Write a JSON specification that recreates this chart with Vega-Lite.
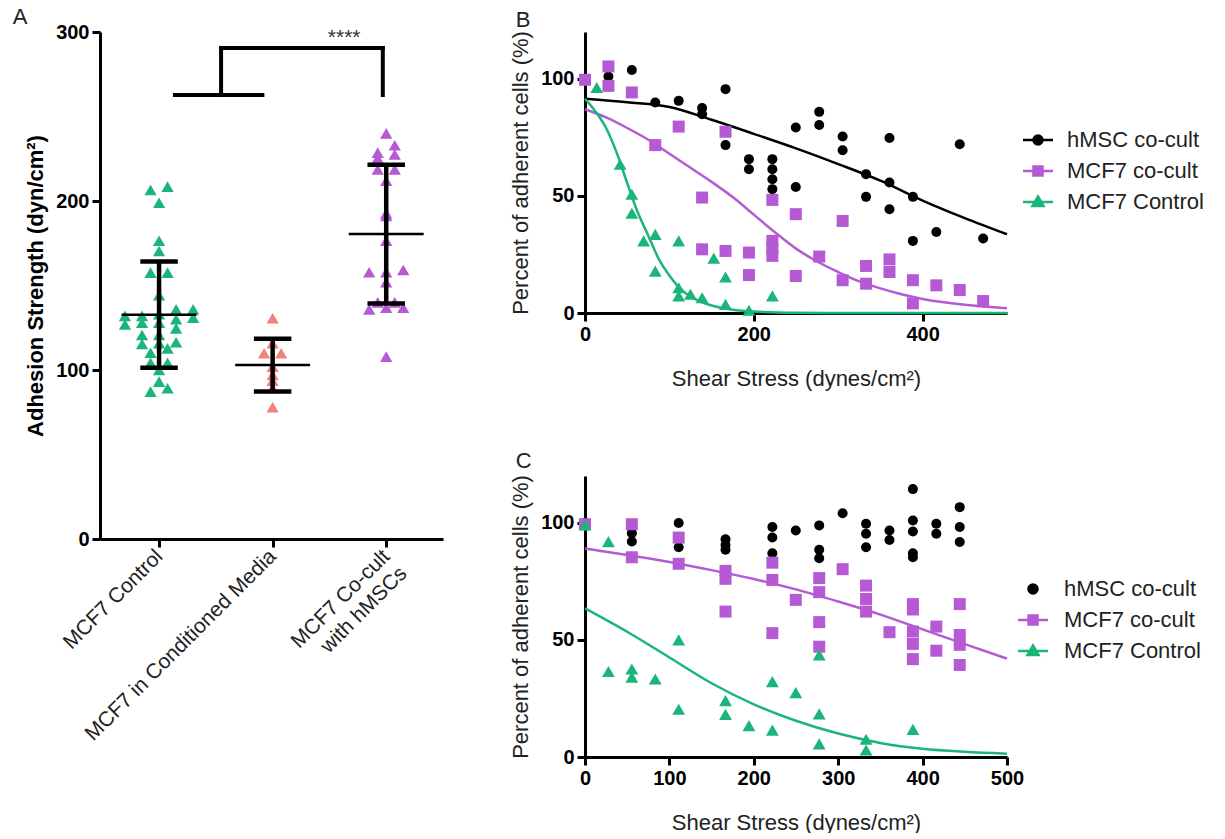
{
  "$schema": "https://vega.github.io/schema/vega-lite/v6.json",
  "background": "white",
  "padding": {"left": 12, "top": 6, "right": 0, "bottom": 0},
  "config": {
    "font": "Liberation Sans",
    "view": {"stroke": null},
    "axis": {
      "grid": false,
      "domainColor": "black",
      "domainWidth": 3,
      "tickColor": "black",
      "tickWidth": 3,
      "tickSize": 8,
      "labelFont": "Liberation Sans",
      "labelFontWeight": "bold",
      "labelFontSize": 20,
      "labelColor": "black",
      "labelFlush": false,
      "labelOverlap": false,
      "labelLimit": 400,
      "labelPadding": 3,
      "titleFont": "Liberation Sans",
      "titleFontWeight": "normal",
      "titleFontSize": 22,
      "titleColor": "#222"
    },
    "title": {"anchor": "start", "frame": "bounds", "font": "Liberation Sans", "fontSize": 22, "fontWeight": "normal", "color": "#222"},
    "legend": {"labelFont": "Liberation Sans", "labelFontSize": 22, "labelColor": "#222", "symbolOpacity": 1, "labelLimit": 300}
  },
  "datasets": {
    "adhesion": [
      {"condition": "MCF7 Control", "strength": 208.5},
      {"condition": "MCF7 Control", "strength": 206.5},
      {"condition": "MCF7 Control", "strength": 199},
      {"condition": "MCF7 Control", "strength": 176.5},
      {"condition": "MCF7 Control", "strength": 170.4},
      {"condition": "MCF7 Control", "strength": 157.6},
      {"condition": "MCF7 Control", "strength": 157.6},
      {"condition": "MCF7 Control", "strength": 144.2},
      {"condition": "MCF7 Control", "strength": 135.9},
      {"condition": "MCF7 Control", "strength": 135.9},
      {"condition": "MCF7 Control", "strength": 133},
      {"condition": "MCF7 Control", "strength": 132},
      {"condition": "MCF7 Control", "strength": 132},
      {"condition": "MCF7 Control", "strength": 131},
      {"condition": "MCF7 Control", "strength": 130},
      {"condition": "MCF7 Control", "strength": 128},
      {"condition": "MCF7 Control", "strength": 128},
      {"condition": "MCF7 Control", "strength": 127},
      {"condition": "MCF7 Control", "strength": 124.6},
      {"condition": "MCF7 Control", "strength": 120.7},
      {"condition": "MCF7 Control", "strength": 120.7},
      {"condition": "MCF7 Control", "strength": 116.4},
      {"condition": "MCF7 Control", "strength": 115.8},
      {"condition": "MCF7 Control", "strength": 115.4},
      {"condition": "MCF7 Control", "strength": 112.8},
      {"condition": "MCF7 Control", "strength": 110.2},
      {"condition": "MCF7 Control", "strength": 104.3},
      {"condition": "MCF7 Control", "strength": 104.3},
      {"condition": "MCF7 Control", "strength": 100},
      {"condition": "MCF7 Control", "strength": 93.1},
      {"condition": "MCF7 Control", "strength": 89.2},
      {"condition": "MCF7 Control", "strength": 87.2},
      {"condition": "MCF7 in Conditioned Media", "strength": 130.6},
      {"condition": "MCF7 in Conditioned Media", "strength": 115.8},
      {"condition": "MCF7 in Conditioned Media", "strength": 109.9},
      {"condition": "MCF7 in Conditioned Media", "strength": 109.9},
      {"condition": "MCF7 in Conditioned Media", "strength": 102},
      {"condition": "MCF7 in Conditioned Media", "strength": 97},
      {"condition": "MCF7 in Conditioned Media", "strength": 93.7},
      {"condition": "MCF7 in Conditioned Media", "strength": 89.2},
      {"condition": "MCF7 in Conditioned Media", "strength": 78},
      {"condition": "MCF7 Co-cult with hMSCs", "strength": 240},
      {"condition": "MCF7 Co-cult with hMSCs", "strength": 233},
      {"condition": "MCF7 Co-cult with hMSCs", "strength": 228.6},
      {"condition": "MCF7 Co-cult with hMSCs", "strength": 227.6},
      {"condition": "MCF7 Co-cult with hMSCs", "strength": 225.3},
      {"condition": "MCF7 Co-cult with hMSCs", "strength": 218.7},
      {"condition": "MCF7 Co-cult with hMSCs", "strength": 218.7},
      {"condition": "MCF7 Co-cult with hMSCs", "strength": 212},
      {"condition": "MCF7 Co-cult with hMSCs", "strength": 192.7},
      {"condition": "MCF7 Co-cult with hMSCs", "strength": 191.1},
      {"condition": "MCF7 Co-cult with hMSCs", "strength": 176.5},
      {"condition": "MCF7 Co-cult with hMSCs", "strength": 159.2},
      {"condition": "MCF7 Co-cult with hMSCs", "strength": 157.8},
      {"condition": "MCF7 Co-cult with hMSCs", "strength": 157.8},
      {"condition": "MCF7 Co-cult with hMSCs", "strength": 151.9},
      {"condition": "MCF7 Co-cult with hMSCs", "strength": 140},
      {"condition": "MCF7 Co-cult with hMSCs", "strength": 140},
      {"condition": "MCF7 Co-cult with hMSCs", "strength": 136.9},
      {"condition": "MCF7 Co-cult with hMSCs", "strength": 136.9},
      {"condition": "MCF7 Co-cult with hMSCs", "strength": 135.9},
      {"condition": "MCF7 Co-cult with hMSCs", "strength": 107.9}
    ],
    "fitB": [
      {"series": "hMSC co-cult", "shear": 0, "pct": 91.5},
      {"series": "hMSC co-cult", "shear": 50, "pct": 90},
      {"series": "hMSC co-cult", "shear": 100, "pct": 88},
      {"series": "hMSC co-cult", "shear": 150, "pct": 82.5},
      {"series": "hMSC co-cult", "shear": 200, "pct": 76.5},
      {"series": "hMSC co-cult", "shear": 250, "pct": 70.3},
      {"series": "hMSC co-cult", "shear": 300, "pct": 63.6},
      {"series": "hMSC co-cult", "shear": 350, "pct": 56.5},
      {"series": "hMSC co-cult", "shear": 400, "pct": 48},
      {"series": "hMSC co-cult", "shear": 450, "pct": 40.5},
      {"series": "hMSC co-cult", "shear": 500, "pct": 33.6},
      {"series": "MCF7 co-cult", "shear": 0, "pct": 87},
      {"series": "MCF7 co-cult", "shear": 25, "pct": 83.5},
      {"series": "MCF7 co-cult", "shear": 50, "pct": 79},
      {"series": "MCF7 co-cult", "shear": 75, "pct": 74},
      {"series": "MCF7 co-cult", "shear": 100, "pct": 68},
      {"series": "MCF7 co-cult", "shear": 125, "pct": 62},
      {"series": "MCF7 co-cult", "shear": 150, "pct": 56},
      {"series": "MCF7 co-cult", "shear": 175, "pct": 49.5},
      {"series": "MCF7 co-cult", "shear": 200, "pct": 42},
      {"series": "MCF7 co-cult", "shear": 225, "pct": 34.5},
      {"series": "MCF7 co-cult", "shear": 250, "pct": 27.5},
      {"series": "MCF7 co-cult", "shear": 275, "pct": 22},
      {"series": "MCF7 co-cult", "shear": 300, "pct": 17.5},
      {"series": "MCF7 co-cult", "shear": 325, "pct": 13.5},
      {"series": "MCF7 co-cult", "shear": 350, "pct": 10.5},
      {"series": "MCF7 co-cult", "shear": 375, "pct": 8},
      {"series": "MCF7 co-cult", "shear": 400, "pct": 6},
      {"series": "MCF7 co-cult", "shear": 450, "pct": 3.5},
      {"series": "MCF7 co-cult", "shear": 500, "pct": 2},
      {"series": "MCF7 Control", "shear": 0, "pct": 91.5},
      {"series": "MCF7 Control", "shear": 12.5, "pct": 86},
      {"series": "MCF7 Control", "shear": 25, "pct": 79},
      {"series": "MCF7 Control", "shear": 37.5, "pct": 68.5},
      {"series": "MCF7 Control", "shear": 50, "pct": 55.5},
      {"series": "MCF7 Control", "shear": 62.5, "pct": 43},
      {"series": "MCF7 Control", "shear": 75, "pct": 33},
      {"series": "MCF7 Control", "shear": 87.5, "pct": 23},
      {"series": "MCF7 Control", "shear": 100, "pct": 16},
      {"series": "MCF7 Control", "shear": 112.5, "pct": 10.5},
      {"series": "MCF7 Control", "shear": 125, "pct": 7},
      {"series": "MCF7 Control", "shear": 137.5, "pct": 4.8},
      {"series": "MCF7 Control", "shear": 150, "pct": 3.2},
      {"series": "MCF7 Control", "shear": 175, "pct": 1.4},
      {"series": "MCF7 Control", "shear": 200, "pct": 0.6},
      {"series": "MCF7 Control", "shear": 250, "pct": 0.1},
      {"series": "MCF7 Control", "shear": 300, "pct": 0},
      {"series": "MCF7 Control", "shear": 400, "pct": 0},
      {"series": "MCF7 Control", "shear": 500, "pct": 0}
    ],
    "pointsB": [
      {"series": "hMSC co-cult", "shear": 0, "pct": 100},
      {"series": "hMSC co-cult", "shear": 27.75, "pct": 101},
      {"series": "hMSC co-cult", "shear": 55.5, "pct": 103.8},
      {"series": "hMSC co-cult", "shear": 83.25, "pct": 89.9},
      {"series": "hMSC co-cult", "shear": 111, "pct": 90.6},
      {"series": "hMSC co-cult", "shear": 138.75, "pct": 87.5},
      {"series": "hMSC co-cult", "shear": 138.75, "pct": 84.9},
      {"series": "hMSC co-cult", "shear": 166.5, "pct": 95.6},
      {"series": "hMSC co-cult", "shear": 166.5, "pct": 71.7},
      {"series": "hMSC co-cult", "shear": 194.25, "pct": 65.7},
      {"series": "hMSC co-cult", "shear": 194.25, "pct": 61.4},
      {"series": "hMSC co-cult", "shear": 222, "pct": 65.7},
      {"series": "hMSC co-cult", "shear": 222, "pct": 61.4},
      {"series": "hMSC co-cult", "shear": 222, "pct": 57.1},
      {"series": "hMSC co-cult", "shear": 222, "pct": 52.9},
      {"series": "hMSC co-cult", "shear": 249.75, "pct": 79.2},
      {"series": "hMSC co-cult", "shear": 249.75, "pct": 53.8},
      {"series": "hMSC co-cult", "shear": 277.5, "pct": 85.9},
      {"series": "hMSC co-cult", "shear": 277.5, "pct": 80.3},
      {"series": "hMSC co-cult", "shear": 305.25, "pct": 75.4},
      {"series": "hMSC co-cult", "shear": 305.25, "pct": 69.5},
      {"series": "hMSC co-cult", "shear": 333, "pct": 59.3},
      {"series": "hMSC co-cult", "shear": 333, "pct": 49.6},
      {"series": "hMSC co-cult", "shear": 360.75, "pct": 74.7},
      {"series": "hMSC co-cult", "shear": 360.75, "pct": 55.7},
      {"series": "hMSC co-cult", "shear": 360.75, "pct": 44.3},
      {"series": "hMSC co-cult", "shear": 388.5, "pct": 49.6},
      {"series": "hMSC co-cult", "shear": 388.5, "pct": 30.8},
      {"series": "hMSC co-cult", "shear": 416.25, "pct": 34.6},
      {"series": "hMSC co-cult", "shear": 444, "pct": 72.1},
      {"series": "hMSC co-cult", "shear": 471.75, "pct": 31.8},
      {"series": "MCF7 co-cult", "shear": 0, "pct": 99.6},
      {"series": "MCF7 co-cult", "shear": 27.75, "pct": 105.3},
      {"series": "MCF7 co-cult", "shear": 27.75, "pct": 97},
      {"series": "MCF7 co-cult", "shear": 55.5, "pct": 94.2},
      {"series": "MCF7 co-cult", "shear": 83.25, "pct": 71.7},
      {"series": "MCF7 co-cult", "shear": 111, "pct": 79.6},
      {"series": "MCF7 co-cult", "shear": 138.75, "pct": 49.3},
      {"series": "MCF7 co-cult", "shear": 138.75, "pct": 27.2},
      {"series": "MCF7 co-cult", "shear": 166.5, "pct": 77.4},
      {"series": "MCF7 co-cult", "shear": 166.5, "pct": 26.5},
      {"series": "MCF7 co-cult", "shear": 194.25, "pct": 25.8},
      {"series": "MCF7 co-cult", "shear": 194.25, "pct": 16.2},
      {"series": "MCF7 co-cult", "shear": 222, "pct": 48.3},
      {"series": "MCF7 co-cult", "shear": 222, "pct": 30.8},
      {"series": "MCF7 co-cult", "shear": 222, "pct": 27.5},
      {"series": "MCF7 co-cult", "shear": 222, "pct": 24.4},
      {"series": "MCF7 co-cult", "shear": 249.75, "pct": 42.2},
      {"series": "MCF7 co-cult", "shear": 249.75, "pct": 15.8},
      {"series": "MCF7 co-cult", "shear": 277.5, "pct": 24.1},
      {"series": "MCF7 co-cult", "shear": 305.25, "pct": 39.3},
      {"series": "MCF7 co-cult", "shear": 305.25, "pct": 14},
      {"series": "MCF7 co-cult", "shear": 333, "pct": 20.1},
      {"series": "MCF7 co-cult", "shear": 333, "pct": 12.5},
      {"series": "MCF7 co-cult", "shear": 360.75, "pct": 22.9},
      {"series": "MCF7 co-cult", "shear": 360.75, "pct": 17.5},
      {"series": "MCF7 co-cult", "shear": 388.5, "pct": 14},
      {"series": "MCF7 co-cult", "shear": 388.5, "pct": 4.1},
      {"series": "MCF7 co-cult", "shear": 416.25, "pct": 11.8},
      {"series": "MCF7 co-cult", "shear": 444, "pct": 9.8},
      {"series": "MCF7 co-cult", "shear": 471.75, "pct": 5.1},
      {"series": "MCF7 Control", "shear": 13.9, "pct": 96.3},
      {"series": "MCF7 Control", "shear": 41.6, "pct": 63.5},
      {"series": "MCF7 Control", "shear": 55.5, "pct": 50.7},
      {"series": "MCF7 Control", "shear": 55.5, "pct": 42.6},
      {"series": "MCF7 Control", "shear": 69.4, "pct": 30.8},
      {"series": "MCF7 Control", "shear": 83.25, "pct": 33.6},
      {"series": "MCF7 Control", "shear": 83.25, "pct": 17.9},
      {"series": "MCF7 Control", "shear": 111, "pct": 30.8},
      {"series": "MCF7 Control", "shear": 111, "pct": 10.8},
      {"series": "MCF7 Control", "shear": 111, "pct": 7.3},
      {"series": "MCF7 Control", "shear": 124.9, "pct": 8},
      {"series": "MCF7 Control", "shear": 138.75, "pct": 6.5},
      {"series": "MCF7 Control", "shear": 152.6, "pct": 23.4},
      {"series": "MCF7 Control", "shear": 166.5, "pct": 15.4},
      {"series": "MCF7 Control", "shear": 166.5, "pct": 3.7},
      {"series": "MCF7 Control", "shear": 194.25, "pct": 1.2},
      {"series": "MCF7 Control", "shear": 222, "pct": 7.3}
    ],
    "fitC": [
      {"series": "MCF7 co-cult", "shear": 0, "pct": 89},
      {"series": "MCF7 co-cult", "shear": 50, "pct": 86.3},
      {"series": "MCF7 co-cult", "shear": 100, "pct": 83.3},
      {"series": "MCF7 co-cult", "shear": 150, "pct": 79.8},
      {"series": "MCF7 co-cult", "shear": 200, "pct": 76},
      {"series": "MCF7 co-cult", "shear": 250, "pct": 71.6},
      {"series": "MCF7 co-cult", "shear": 300, "pct": 66.4},
      {"series": "MCF7 co-cult", "shear": 350, "pct": 60.8},
      {"series": "MCF7 co-cult", "shear": 400, "pct": 54.5},
      {"series": "MCF7 co-cult", "shear": 450, "pct": 48.2},
      {"series": "MCF7 co-cult", "shear": 500, "pct": 42},
      {"series": "MCF7 Control", "shear": 0, "pct": 63.5},
      {"series": "MCF7 Control", "shear": 50, "pct": 53.5},
      {"series": "MCF7 Control", "shear": 100, "pct": 42.5},
      {"series": "MCF7 Control", "shear": 150, "pct": 31.5},
      {"series": "MCF7 Control", "shear": 200, "pct": 22.5},
      {"series": "MCF7 Control", "shear": 250, "pct": 15.5},
      {"series": "MCF7 Control", "shear": 300, "pct": 10},
      {"series": "MCF7 Control", "shear": 350, "pct": 6},
      {"series": "MCF7 Control", "shear": 400, "pct": 3.5},
      {"series": "MCF7 Control", "shear": 450, "pct": 2.2},
      {"series": "MCF7 Control", "shear": 500, "pct": 1.4}
    ],
    "pointsC": [
      {"series": "hMSC co-cult", "shear": 0, "pct": 100},
      {"series": "hMSC co-cult", "shear": 55.5, "pct": 95.6},
      {"series": "hMSC co-cult", "shear": 55.5, "pct": 92},
      {"series": "hMSC co-cult", "shear": 111, "pct": 99.9},
      {"series": "hMSC co-cult", "shear": 111, "pct": 89.6},
      {"series": "hMSC co-cult", "shear": 166.5, "pct": 93},
      {"series": "hMSC co-cult", "shear": 166.5, "pct": 90.5},
      {"series": "hMSC co-cult", "shear": 166.5, "pct": 88.5},
      {"series": "hMSC co-cult", "shear": 222, "pct": 98.2},
      {"series": "hMSC co-cult", "shear": 222, "pct": 93.7},
      {"series": "hMSC co-cult", "shear": 222, "pct": 87},
      {"series": "hMSC co-cult", "shear": 249.75, "pct": 96.7},
      {"series": "hMSC co-cult", "shear": 277.5, "pct": 98.9},
      {"series": "hMSC co-cult", "shear": 277.5, "pct": 88.5},
      {"series": "hMSC co-cult", "shear": 277.5, "pct": 84.9},
      {"series": "hMSC co-cult", "shear": 305.25, "pct": 104.1},
      {"series": "hMSC co-cult", "shear": 333, "pct": 99.6},
      {"series": "hMSC co-cult", "shear": 333, "pct": 95.3},
      {"series": "hMSC co-cult", "shear": 333, "pct": 89.6},
      {"series": "hMSC co-cult", "shear": 360.75, "pct": 96.7},
      {"series": "hMSC co-cult", "shear": 360.75, "pct": 92.7},
      {"series": "hMSC co-cult", "shear": 388.5, "pct": 114.4},
      {"series": "hMSC co-cult", "shear": 388.5, "pct": 101},
      {"series": "hMSC co-cult", "shear": 388.5, "pct": 96.3},
      {"series": "hMSC co-cult", "shear": 388.5, "pct": 87},
      {"series": "hMSC co-cult", "shear": 388.5, "pct": 85.3},
      {"series": "hMSC co-cult", "shear": 416.25, "pct": 99.6},
      {"series": "hMSC co-cult", "shear": 416.25, "pct": 95.3},
      {"series": "hMSC co-cult", "shear": 444, "pct": 106.7},
      {"series": "hMSC co-cult", "shear": 444, "pct": 98.2},
      {"series": "hMSC co-cult", "shear": 444, "pct": 91.8},
      {"series": "MCF7 co-cult", "shear": 0, "pct": 99.4},
      {"series": "MCF7 co-cult", "shear": 55.5, "pct": 99.4},
      {"series": "MCF7 co-cult", "shear": 55.5, "pct": 85.3},
      {"series": "MCF7 co-cult", "shear": 111, "pct": 93.7},
      {"series": "MCF7 co-cult", "shear": 111, "pct": 82.5},
      {"series": "MCF7 co-cult", "shear": 166.5, "pct": 79.5},
      {"series": "MCF7 co-cult", "shear": 166.5, "pct": 76.1},
      {"series": "MCF7 co-cult", "shear": 166.5, "pct": 62.1},
      {"series": "MCF7 co-cult", "shear": 222, "pct": 83},
      {"series": "MCF7 co-cult", "shear": 222, "pct": 75.6},
      {"series": "MCF7 co-cult", "shear": 222, "pct": 52.9},
      {"series": "MCF7 co-cult", "shear": 249.75, "pct": 67.1},
      {"series": "MCF7 co-cult", "shear": 277.5, "pct": 76.4},
      {"series": "MCF7 co-cult", "shear": 277.5, "pct": 70.4},
      {"series": "MCF7 co-cult", "shear": 277.5, "pct": 57.6},
      {"series": "MCF7 co-cult", "shear": 277.5, "pct": 47.1},
      {"series": "MCF7 co-cult", "shear": 305.25, "pct": 80.2},
      {"series": "MCF7 co-cult", "shear": 333, "pct": 73.2},
      {"series": "MCF7 co-cult", "shear": 333, "pct": 67.5},
      {"series": "MCF7 co-cult", "shear": 333, "pct": 62.1},
      {"series": "MCF7 co-cult", "shear": 360.75, "pct": 53.3},
      {"series": "MCF7 co-cult", "shear": 388.5, "pct": 65.3},
      {"series": "MCF7 co-cult", "shear": 388.5, "pct": 63},
      {"series": "MCF7 co-cult", "shear": 388.5, "pct": 53.6},
      {"series": "MCF7 co-cult", "shear": 388.5, "pct": 48.3},
      {"series": "MCF7 co-cult", "shear": 388.5, "pct": 41.8},
      {"series": "MCF7 co-cult", "shear": 416.25, "pct": 55.7},
      {"series": "MCF7 co-cult", "shear": 416.25, "pct": 45.4},
      {"series": "MCF7 co-cult", "shear": 444, "pct": 65.3},
      {"series": "MCF7 co-cult", "shear": 444, "pct": 52.1},
      {"series": "MCF7 co-cult", "shear": 444, "pct": 47.9},
      {"series": "MCF7 co-cult", "shear": 444, "pct": 39.3},
      {"series": "MCF7 Control", "shear": 0, "pct": 99.1},
      {"series": "MCF7 Control", "shear": 27.75, "pct": 92},
      {"series": "MCF7 Control", "shear": 27.75, "pct": 36.5},
      {"series": "MCF7 Control", "shear": 55.5, "pct": 37.6},
      {"series": "MCF7 Control", "shear": 55.5, "pct": 34.1},
      {"series": "MCF7 Control", "shear": 83.25, "pct": 33.3},
      {"series": "MCF7 Control", "shear": 111, "pct": 50},
      {"series": "MCF7 Control", "shear": 111, "pct": 20.4},
      {"series": "MCF7 Control", "shear": 166.5, "pct": 24.1},
      {"series": "MCF7 Control", "shear": 166.5, "pct": 18.2},
      {"series": "MCF7 Control", "shear": 194.25, "pct": 13.4},
      {"series": "MCF7 Control", "shear": 222, "pct": 32.2},
      {"series": "MCF7 Control", "shear": 222, "pct": 11.5},
      {"series": "MCF7 Control", "shear": 249.75, "pct": 27.5},
      {"series": "MCF7 Control", "shear": 277.5, "pct": 43.6},
      {"series": "MCF7 Control", "shear": 277.5, "pct": 18.4},
      {"series": "MCF7 Control", "shear": 277.5, "pct": 5.6},
      {"series": "MCF7 Control", "shear": 333, "pct": 7.6},
      {"series": "MCF7 Control", "shear": 333, "pct": 3},
      {"series": "MCF7 Control", "shear": 388.5, "pct": 11.8}
    ]
  },
  "resolve": {"scale": {"color": "independent"}, "legend": {"color": "independent"}},
  "spacing": 66,
  "hconcat": [
    {
      "title": {"text": "A", "dx": -12, "offset": -7},
      "width": 343,
      "height": 507,
      "layer": [
        {
          "data": {"name": "adhesion"},
          "transform": [
            {"calculate": "indexof(['MCF7 Control', 'MCF7 in Conditioned Media', 'MCF7 Co-cult with hMSCs'], datum.condition) + 1", "as": "grp"},
            {"calculate": "floor(datum.strength / 6)", "as": "bin"},
            {"window": [{"op": "row_number", "as": "k"}], "groupby": ["condition", "bin"], "sort": [{"field": "strength"}]},
            {"joinaggregate": [{"op": "count", "as": "n"}], "groupby": ["condition", "bin"]},
            {"calculate": "datum.grp + 0.15 * (datum.k - (datum.n + 1) / 2)", "as": "xpos"}
          ],
          "mark": {"type": "point", "shape": "triangle-up", "filled": true, "size": 150, "opacity": 1},
          "encoding": {
            "x": {
              "field": "xpos",
              "type": "quantitative",
              "scale": {"domain": [0.48, 3.5], "nice": false, "zero": false},
              "axis": {
                "values": [1, 2, 3],
                "labelExpr": "datum.value == 1 ? 'MCF7 Control' : datum.value == 2 ? 'MCF7 in Conditioned Media' : ['MCF7 Co-cult', 'with hMSCs']",
                "labelAngle": -45,
                "labelAlign": "right",
                "labelBaseline": "middle",
                "labelFontWeight": "normal",
                "labelFontSize": 21,
                "labelColor": "#222",
                "labelLineHeight": 24,
                "labelPadding": 6,
                "title": null
              }
            },
            "y": {
              "field": "strength",
              "type": "quantitative",
              "scale": {"domain": [0, 300], "nice": false},
              "axis": {"values": [0, 100, 200, 300], "title": "Adhesion Strength (dyn/cm²)", "titleFontWeight": "bold", "titleColor": "black", "titlePadding": 8}
            },
            "color": {
              "field": "condition",
              "type": "nominal",
              "scale": {"domain": ["MCF7 Control", "MCF7 in Conditioned Media", "MCF7 Co-cult with hMSCs"], "range": ["#1bb57a", "#f47f7f", "#b55ad4"]},
              "legend": null
            }
          }
        },
        {
          "data": {"name": "adhesion"},
          "transform": [
            {"aggregate": [{"op": "mean", "field": "strength", "as": "m"}, {"op": "stdev", "field": "strength", "as": "sd"}], "groupby": ["condition"]},
            {"calculate": "indexof(['MCF7 Control', 'MCF7 in Conditioned Media', 'MCF7 Co-cult with hMSCs'], datum.condition) + 1", "as": "grp"},
            {"calculate": "datum.m - datum.sd", "as": "lo"},
            {"calculate": "datum.m + datum.sd", "as": "hi"},
            {"calculate": "datum.grp - 0.33", "as": "ml"},
            {"calculate": "datum.grp + 0.33", "as": "mr"},
            {"calculate": "datum.grp - 0.165", "as": "cl"},
            {"calculate": "datum.grp + 0.165", "as": "cr"}
          ],
          "layer": [
            {
              "mark": {"type": "rule", "color": "black", "strokeWidth": 2.5},
              "encoding": {
                "x": {"field": "ml", "type": "quantitative"},
                "x2": {"field": "mr"},
                "y": {"field": "m", "type": "quantitative"}
              }
            },
            {
              "mark": {"type": "rule", "color": "black", "strokeWidth": 4.5},
              "encoding": {
                "x": {"field": "grp", "type": "quantitative"},
                "y": {"field": "lo", "type": "quantitative"},
                "y2": {"field": "hi"}
              }
            },
            {
              "mark": {"type": "rule", "color": "black", "strokeWidth": 4.5},
              "encoding": {
                "x": {"field": "cl", "type": "quantitative"},
                "x2": {"field": "cr"},
                "y": {"field": "hi", "type": "quantitative"}
              }
            },
            {
              "mark": {"type": "rule", "color": "black", "strokeWidth": 4.5},
              "encoding": {
                "x": {"field": "cl", "type": "quantitative"},
                "x2": {"field": "cr"},
                "y": {"field": "lo", "type": "quantitative"}
              }
            }
          ]
        },
        {
          "data": {"values": [
            {"x": 1.14, "x2": 1.91, "y": 262.7, "y2": 262.7},
            {"x": 1.546, "x2": 1.546, "y": 262.7, "y2": 290.5},
            {"x": 1.546, "x2": 2.97, "y": 290.5, "y2": 290.5},
            {"x": 2.97, "x2": 2.97, "y": 290.5, "y2": 262.7}
          ]},
          "mark": {"type": "rule", "color": "black", "strokeWidth": 4, "strokeCap": "square"},
          "encoding": {
            "x": {"field": "x", "type": "quantitative"},
            "x2": {"field": "x2"},
            "y": {"field": "y", "type": "quantitative"},
            "y2": {"field": "y2"}
          }
        },
        {
          "data": {"values": [{"x": 2.63, "y": 292.9, "label": "****"}]},
          "mark": {"type": "text", "fontSize": 21, "color": "#333", "baseline": "alphabetic", "align": "center"},
          "encoding": {
            "x": {"field": "x", "type": "quantitative"},
            "y": {"field": "y", "type": "quantitative"},
            "text": {"field": "label"}
          }
        }
      ]
    },
    {
      "spacing": 60,
      "resolve": {"scale": {"color": "independent"}, "legend": {"color": "independent"}},
      "vconcat": [
        {
          "title": {"text": "B", "dx": 6, "offset": -1},
          "width": 422,
          "height": 281,
          "encoding": {
            "x": {"field": "shear", "type": "quantitative", "scale": {"domain": [0, 500], "nice": false}, "axis": {"values": [0, 200, 400], "title": "Shear Stress (dynes/cm²)", "titlePadding": 24}},
            "y": {"field": "pct", "type": "quantitative", "scale": {"domain": [0, 120], "nice": false}, "axis": {"values": [0, 50, 100], "title": "Percent of adherent cells (%)", "titlePadding": 8}},
            "color": {
              "field": "series",
              "type": "nominal",
              "scale": {"domain": ["hMSC co-cult", "MCF7 co-cult", "MCF7 Control"], "range": ["black", "#b55ad4", "#1bb57a"]},
              "legend": {
                "orient": "none",
                "legendX": 442,
                "legendY": 97,
                "title": null,
                "padding": 0,
                "symbolSize": 100,
                "labelOffset": 18,
                "rowPadding": 9,
                "encode": {
                  "symbols": {
                    "update": {
                      "shape": {"signal": "datum.value === 'hMSC co-cult' ? 'M-3,0H3M-0.9,0A0.9,0.9 0 1,0 0.9,0A0.9,0.9 0 1,0 -0.9,0Z' : datum.value === 'MCF7 co-cult' ? 'M-3,0H3M-0.9,-0.9H0.9V0.9H-0.9Z' : 'M-3,0H3M0,-1.1L1.1,0.8L-1.1,0.8Z'"},
                      "stroke": {"signal": "datum.value === 'hMSC co-cult' ? 'black' : datum.value === 'MCF7 co-cult' ? '#b55ad4' : '#1bb57a'"},
                      "fill": {"signal": "datum.value === 'hMSC co-cult' ? 'black' : datum.value === 'MCF7 co-cult' ? '#b55ad4' : '#1bb57a'"},
                      "strokeWidth": {"value": 2.5}
                    }
                  }
                }
              }
            }
          },
          "layer": [
            {
              "data": {"name": "fitB"},
              "mark": {"type": "line", "strokeWidth": 2.5, "interpolate": "monotone"}
            },
            {
              "data": {"name": "pointsB"},
              "transform": [{"filter": "datum.series === 'hMSC co-cult'"}],
              "mark": {"type": "point", "shape": "circle", "size": 100, "filled": true, "opacity": 1}
            },
            {
              "data": {"name": "pointsB"},
              "transform": [{"filter": "datum.series === 'MCF7 co-cult'"}],
              "mark": {"type": "point", "shape": "square", "size": 144, "filled": true, "opacity": 1}
            },
            {
              "data": {"name": "pointsB"},
              "transform": [{"filter": "datum.series === 'MCF7 Control'"}],
              "mark": {"type": "point", "shape": "triangle-up", "size": 165, "filled": true, "opacity": 1}
            }
          ]
        },
        {
          "title": {"text": "C", "dx": 6, "offset": 2},
          "width": 422,
          "height": 281,
          "encoding": {
            "x": {"field": "shear", "type": "quantitative", "scale": {"domain": [0, 500], "nice": false}, "axis": {"values": [0, 100, 200, 300, 400, 500], "title": "Shear Stress (dynes/cm²)", "titlePadding": 24}},
            "y": {"field": "pct", "type": "quantitative", "scale": {"domain": [0, 120], "nice": false}, "axis": {"values": [0, 50, 100], "title": "Percent of adherent cells (%)", "titlePadding": 8}},
            "color": {
              "field": "series",
              "type": "nominal",
              "scale": {"domain": ["hMSC co-cult", "MCF7 co-cult", "MCF7 Control"], "range": ["black", "#b55ad4", "#1bb57a"]},
              "legend": {
                "orient": "none",
                "legendX": 437,
                "legendY": 102,
                "title": null,
                "padding": 0,
                "symbolSize": 100,
                "labelOffset": 20,
                "rowPadding": 9,
                "encode": {
                  "symbols": {
                    "update": {
                      "shape": {"signal": "datum.value === 'hMSC co-cult' ? 'M-0.9,0A0.9,0.9 0 1,0 0.9,0A0.9,0.9 0 1,0 -0.9,0Z' : datum.value === 'MCF7 co-cult' ? 'M-3,0H3M-0.9,-0.9H0.9V0.9H-0.9Z' : 'M-3,0H3M0,-1.1L1.1,0.8L-1.1,0.8Z'"},
                      "stroke": {"signal": "datum.value === 'hMSC co-cult' ? 'black' : datum.value === 'MCF7 co-cult' ? '#b55ad4' : '#1bb57a'"},
                      "fill": {"signal": "datum.value === 'hMSC co-cult' ? 'black' : datum.value === 'MCF7 co-cult' ? '#b55ad4' : '#1bb57a'"},
                      "strokeWidth": {"value": 2.5}
                    }
                  }
                }
              }
            }
          },
          "layer": [
            {
              "data": {"name": "fitC"},
              "mark": {"type": "line", "strokeWidth": 2.5, "interpolate": "monotone"}
            },
            {
              "data": {"name": "pointsC"},
              "transform": [{"filter": "datum.series === 'hMSC co-cult'"}],
              "mark": {"type": "point", "shape": "circle", "size": 100, "filled": true, "opacity": 1}
            },
            {
              "data": {"name": "pointsC"},
              "transform": [{"filter": "datum.series === 'MCF7 co-cult'"}],
              "mark": {"type": "point", "shape": "square", "size": 144, "filled": true, "opacity": 1}
            },
            {
              "data": {"name": "pointsC"},
              "transform": [{"filter": "datum.series === 'MCF7 Control'"}],
              "mark": {"type": "point", "shape": "triangle-up", "size": 165, "filled": true, "opacity": 1}
            }
          ]
        }
      ]
    }
  ]
}
